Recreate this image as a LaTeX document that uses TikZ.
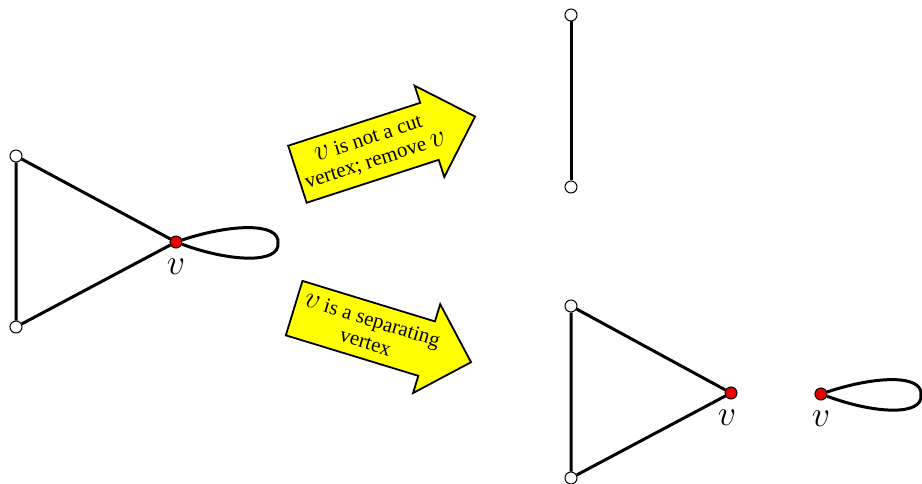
\RequirePackage{fix-cm}
\documentclass[tikz,border=0pt]{standalone}
\usepackage{fontspec}
\setmainfont{Liberation Serif}
\usepackage{tikz}
\usetikzlibrary{arrows.meta,positioning,shapes.arrows}
\definecolor{arrowyellow}{RGB}{255,255,0}
\definecolor{cutred}{RGB}{235,0,0}
\newcommand{\vsym}{{\fontsize{30}{23}\selectfont$v$}}
\tikzset{
  vtx/.style={circle, draw, fill=white, line width=1pt, inner sep=0pt, minimum size=12pt},
  cutvtx/.style={vtx, fill=cutred},
  edge/.style={line width=3pt},
  vlabel/.style={font=\fontsize{36}{40}\selectfont, inner sep=0pt},
  bigarrow/.style={single arrow, draw, line width=1.8pt, fill=arrowyellow,
                   minimum height=185pt, single arrow head extend=18pt,
                   inner xsep=4pt, inner ysep=9pt, align=center,
                   font=\fontsize{21}{23}\selectfont},
}

\begin{document}
\begin{tikzpicture}[x=1pt, y=-1pt]
\useasboundingbox (0,0) rectangle (922,484);
% graph with the cut vertex
\node[vtx] (t1) at (16,156) {};
\node[vtx] (t2) at (16,327) {};
\node[cutvtx] (v) at (176,242) {};
\coordinate (vloop) at (278,243);
\draw[edge] (t1) -- (t2) -- (v) -- (t1);
\draw[edge] (v) .. controls (230,224) and (280,222) .. (vloop)
                .. controls (280,264) and (230,262) .. (v);
\node[vlabel, below=10pt of v] (vlab) {$v$};

% the two cases
\node[bigarrow, rotate=18] (notcut) at (372,150) {\vsym{} is not a cut\\vertex; remove \vsym};
\node[bigarrow, rotate=-17] (sep) at (369,331) {\vsym{} is a separating\\vertex};

% v removed
\node[vtx] (a) at (571,15) {};
\node[vtx] (b) at (571,187) {};
\draw[edge] (a) -- (b);

% v split in two
\node[vtx] (c) at (571,306) {};
\node[vtx] (d) at (571,478) {};
\node[cutvtx] (w) at (731,393) {};
\draw[edge] (c) -- (d) -- (w) -- (c);
\node[vlabel, below=10pt of w, xshift=-4pt] (wlab) {$v$};
\node[cutvtx] (w2) at (821,394) {};
\coordinate (wloop) at (921,395);
\draw[edge] (w2) .. controls (875,376) and (923,374) .. (wloop)
                 .. controls (923,416) and (875,414) .. (w2);
\node[vlabel, below=10pt of w2] (w2lab) {$v$};
\end{tikzpicture}
\end{document}
